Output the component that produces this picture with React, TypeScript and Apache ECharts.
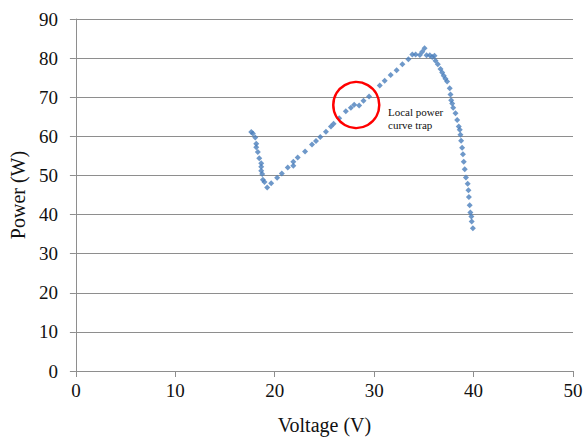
import React, { useEffect, useRef } from "react";
import * as echarts from "echarts";

const voltage = [
  17.64, 17.8, 18.04, 18.14, 18.14, 18.3, 18.44, 18.64, 18.64, 18.64, 18.74, 18.81, 18.97, 19.24,
  19.64, 20.24, 20.71, 21.31, 21.87, 21.87, 22.31, 23.05, 23.75, 24.15, 24.58, 25.15, 25.65, 25.92,
  26.48, 27.15, 27.66, 27.99, 28.49, 28.93, 29.49, 30.56, 31.06, 31.66, 32.26, 32.84, 33.44, 33.84,
  34.17, 34.6, 34.84, 35.07, 35.27, 35.6, 35.84, 36.07, 36.17, 36.4, 36.67, 36.84, 37.0, 37.17,
  37.34, 37.6, 37.68, 37.75, 37.85, 37.95, 38.18, 38.35, 38.51, 38.61, 38.68, 38.75, 38.85, 38.93,
  39.01, 39.11, 39.23, 39.41, 39.48, 39.53, 39.61, 39.68, 39.78, 39.81, 39.93,
];
const power = [
  61.1, 60.7, 59.7, 58.1, 57.2, 56.0, 54.4, 53.1, 52.2, 51.2, 50.4, 48.9, 48.3, 46.9,
  48.0, 49.4, 50.5, 52.0, 52.5, 53.5, 54.6, 56.1, 57.9, 58.8, 59.8, 61.2, 62.5, 63.2,
  64.6, 66.4, 67.3, 68.1, 67.9, 69.1, 70.2, 73.0, 74.2, 75.7, 76.9, 78.4, 79.7, 80.9,
  80.9, 80.8, 81.6, 82.5, 80.7, 80.7, 80.3, 80.6, 79.3, 78.4, 77.2, 76.3, 75.5, 74.7,
  74.0, 72.3, 70.7, 69.2, 68.4, 67.3, 65.9, 64.2, 62.5, 61.7, 60.4, 58.9, 57.1, 55.4,
  53.5, 51.6, 49.5, 47.9, 46.2, 44.5, 42.4, 40.5, 39.5, 38.2, 36.5,
];
const trapPoint = [28.2, 68];
const annotation = "Local power\ncurve trap";
const xTitle = "Voltage (V)";
const yTitle = "Power (W)";

const FONT = "'Liberation Serif', 'Times New Roman', serif";
const GRID_COLOR = "#8e8e8e";
const TEXT_COLOR = "#111";

export default function App() {
  const ref = useRef<HTMLDivElement>(null);
  useEffect(() => {
    if (!ref.current) return;
    const chart = echarts.init(ref.current, undefined, { renderer: "svg" });
    const data = voltage.map((v, i) => [v, power[i]]);
    chart.setOption({
      animation: false,
      backgroundColor: "#ffffff",
      grid: { left: 74, right: 13, top: 19, bottom: 63 },
      xAxis: {
        type: "value",
        min: 0,
        max: 50,
        interval: 10,
        name: xTitle,
        nameLocation: "middle",
        nameGap: 44,
        nameTextStyle: { fontFamily: FONT, fontSize: 20, color: TEXT_COLOR },
        axisLine: { show: true, lineStyle: { color: GRID_COLOR, width: 1 } },
        axisTick: { show: true, inside: false, length: 6, lineStyle: { color: GRID_COLOR } },
        axisLabel: { fontFamily: FONT, fontSize: 19, color: TEXT_COLOR, margin: 10 },
        splitLine: { show: false },
      },
      yAxis: {
        type: "value",
        min: 0,
        max: 90,
        interval: 10,
        name: yTitle,
        nameLocation: "middle",
        nameGap: 31,
        nameTextStyle: { fontFamily: FONT, fontSize: 20, color: TEXT_COLOR },
        axisLine: { show: true, lineStyle: { color: GRID_COLOR, width: 1 } },
        axisTick: { show: true, inside: false, length: 6, lineStyle: { color: GRID_COLOR } },
        axisLabel: { fontFamily: FONT, fontSize: 19, color: TEXT_COLOR, margin: 18 },
        splitLine: { show: true, lineStyle: { color: GRID_COLOR, width: 1 } },
      },
      series: [
        {
          type: "scatter",
          data,
          symbol: "diamond",
          symbolSize: 6,
          itemStyle: { color: "#4a7ebb" },
          markPoint: {
            silent: true,
            symbol: "circle",
            symbolSize: 46,
            itemStyle: { color: "rgba(0,0,0,0)", borderColor: "#ff0000", borderWidth: 2.5 },
            label: { show: false },
            data: [{ coord: trapPoint }],
          },
        },
      ],
      graphic: [
        {
          type: "text",
          left: 388,
          top: 105,
          style: {
            text: annotation,
            font: `11px ${FONT}`,
            fill: TEXT_COLOR,
            lineHeight: 13,
          },
        },
      ],
    });
    return () => chart.dispose();
  }, []);
  return <div ref={ref} style={{ width: 586, height: 440, position: "absolute", left: 0, top: 0 }} />;
}
